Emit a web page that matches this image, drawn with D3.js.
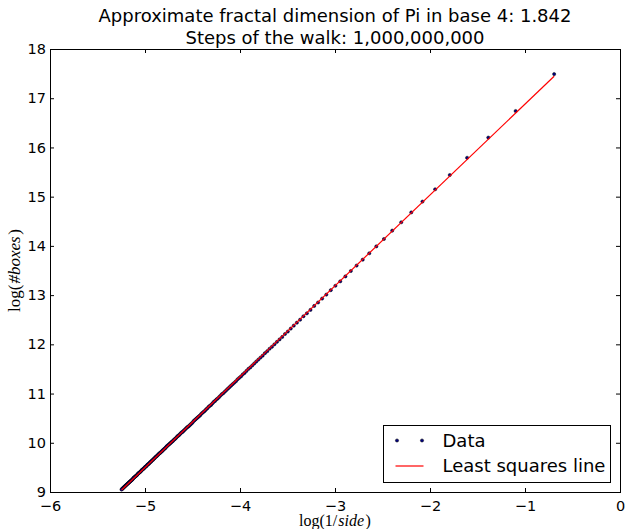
<!DOCTYPE html>
<html>
<head>
<meta charset="utf-8">
<script src="https://cdn.jsdelivr.net/npm/d3@7"></script>
<style>
  body { margin: 0; background: #fff; }
  text { font-family: "DejaVu Sans", sans-serif; }
  .math { font-family: "Liberation Serif", "DejaVu Serif", serif; }
</style>
</head>
<body>
<svg id="chart"></svg>
<script>
// log(1/side) for box sides 2..190
var logInvSide = [
  -0.6931, -1.0986, -1.3863, -1.6094, -1.7918, -1.9459, -2.0794, -2.1972, -2.3026, -2.3979,
  -2.4849, -2.5649, -2.6391, -2.7081, -2.7726, -2.8332, -2.8904, -2.9444, -2.9957, -3.0445,
  -3.0910, -3.1355, -3.1781, -3.2189, -3.2581, -3.2958, -3.3322, -3.3673, -3.4012, -3.4340,
  -3.4657, -3.4965, -3.5264, -3.5553, -3.5835, -3.6109, -3.6376, -3.6636, -3.6889, -3.7136,
  -3.7377, -3.7612, -3.7842, -3.8067, -3.8286, -3.8501, -3.8712, -3.8918, -3.9120, -3.9318,
  -3.9512, -3.9703, -3.9890, -4.0073, -4.0254, -4.0431, -4.0604, -4.0775, -4.0943, -4.1109,
  -4.1271, -4.1431, -4.1589, -4.1744, -4.1897, -4.2047, -4.2195, -4.2341, -4.2485, -4.2627,
  -4.2767, -4.2905, -4.3041, -4.3175, -4.3307, -4.3438, -4.3567, -4.3694, -4.3820, -4.3944,
  -4.4067, -4.4188, -4.4308, -4.4427, -4.4543, -4.4659, -4.4773, -4.4886, -4.4998, -4.5109,
  -4.5218, -4.5326, -4.5433, -4.5539, -4.5643, -4.5747, -4.5850, -4.5951, -4.6052, -4.6151,
  -4.6250, -4.6347, -4.6444, -4.6540, -4.6634, -4.6728, -4.6821, -4.6913, -4.7005, -4.7095,
  -4.7185, -4.7274, -4.7362, -4.7449, -4.7536, -4.7622, -4.7707, -4.7791, -4.7875, -4.7958,
  -4.8040, -4.8122, -4.8203, -4.8283, -4.8363, -4.8442, -4.8520, -4.8598, -4.8675, -4.8752,
  -4.8828, -4.8903, -4.8978, -4.9053, -4.9127, -4.9200, -4.9273, -4.9345, -4.9416, -4.9488,
  -4.9558, -4.9628, -4.9698, -4.9767, -4.9836, -4.9904, -4.9972, -5.0039, -5.0106, -5.0173,
  -5.0239, -5.0304, -5.0370, -5.0434, -5.0499, -5.0562, -5.0626, -5.0689, -5.0752, -5.0814,
  -5.0876, -5.0938, -5.0999, -5.1059, -5.1120, -5.1180, -5.1240, -5.1299, -5.1358, -5.1417,
  -5.1475, -5.1533, -5.1591, -5.1648, -5.1705, -5.1761, -5.1818, -5.1874, -5.1930, -5.1985,
  -5.2040, -5.2095, -5.2149, -5.2204, -5.2257, -5.2311, -5.2364, -5.2417, -5.2470
];
// log(#boxes)
var logBoxes = [
  17.49, 16.74, 16.20, 15.79, 15.44, 15.15, 14.90, 14.68, 14.48, 14.31,
  14.14, 13.99, 13.85, 13.72, 13.60, 13.49, 13.38, 13.28, 13.19, 13.10,
  13.01, 12.93, 12.85, 12.78, 12.70, 12.63, 12.57, 12.50, 12.44, 12.38,
  12.32, 12.26, 12.21, 12.15, 12.10, 12.05, 12.00, 11.95, 11.91, 11.86,
  11.82, 11.77, 11.73, 11.69, 11.65, 11.61, 11.57, 11.53, 11.50, 11.46,
  11.42, 11.39, 11.35, 11.32, 11.29, 11.25, 11.22, 11.19, 11.16, 11.13,
  11.10, 11.07, 11.04, 11.01, 10.99, 10.96, 10.93, 10.90, 10.88, 10.85,
  10.83, 10.80, 10.77, 10.75, 10.73, 10.70, 10.68, 10.65, 10.63, 10.61,
  10.59, 10.56, 10.54, 10.52, 10.50, 10.48, 10.46, 10.44, 10.41, 10.39,
  10.37, 10.35, 10.33, 10.32, 10.30, 10.28, 10.26, 10.24, 10.22, 10.21,
  10.19, 10.17, 10.15, 10.14, 10.12, 10.10, 10.08, 10.07, 10.05, 10.03,
  10.02, 10.00, 9.99, 9.97, 9.96, 9.94, 9.93, 9.91, 9.89, 9.88,
  9.86, 9.85, 9.83, 9.82, 9.80, 9.79, 9.78, 9.76, 9.75, 9.73,
  9.72, 9.71, 9.69, 9.68, 9.66, 9.65, 9.64, 9.62, 9.61, 9.60,
  9.58, 9.57, 9.56, 9.55, 9.53, 9.52, 9.51, 9.50, 9.48, 9.47,
  9.46, 9.45, 9.44, 9.42, 9.41, 9.40, 9.39, 9.38, 9.37, 9.35,
  9.34, 9.33, 9.32, 9.31, 9.30, 9.29, 9.28, 9.26, 9.25, 9.24,
  9.23, 9.22, 9.21, 9.20, 9.19, 9.18, 9.17, 9.16, 9.15, 9.14,
  9.13, 9.12, 9.11, 9.10, 9.09, 9.08, 9.07, 9.06, 9.05
];
var xTicks = [-6, -5, -4, -3, -2, -1, 0];
var yTicks = [9, 10, 11, 12, 13, 14, 15, 16, 17, 18];
var titleLines = ["Approximate fractal dimension of Pi in base 4: 1.842", "Steps of the walk: 1,000,000,000"];
var legendLabels = ["Data", "Least squares line"];

(function () {
    "use strict";

    var margin = { left: 50, right: 6, top: 49, bottom: 37 };
    var dim = { width: 570, height: 443 };
    var x = d3.scaleLinear().domain([-6, 0]).range([0, dim.width]);
    var y = d3.scaleLinear().domain([9, 18]).range([dim.height, 0]);

    var svg = d3.select("#chart")
        .attr("width", 626)
        .attr("height", 529);

    svg.selectAll("text.title").data(titleLines).enter().append("text")
        .attr("class", "title")
        .attr("x", margin.left + dim.width / 2)
        .attr("y", function (d, i) { return 21.5 + i * 22; })
        .attr("text-anchor", "middle")
        .style("font-size", "18px")
        .text(function (d) { return d; });

    var chart = svg.append("g")
        .attr("transform", "translate(" + margin.left + "," + margin.top + ")");

    // least squares fit of the data
    var pts = logInvSide.map(function (v, i) { return [v, logBoxes[i]]; });
    var mx = d3.mean(pts, function (p) { return p[0]; });
    var my = d3.mean(pts, function (p) { return p[1]; });
    var sxy = d3.sum(pts, function (p) { return (p[0] - mx) * (p[1] - my); });
    var sxx = d3.sum(pts, function (p) { return (p[0] - mx) * (p[0] - mx); });
    var slope = sxy / sxx;
    var icpt = my - slope * mx;
    var xExt = d3.extent(logInvSide);

    chart.selectAll("circle.pt").data(pts).enter().append("circle")
        .attr("class", "pt")
        .attr("cx", function (d) { return x(d[0]); })
        .attr("cy", function (d) { return y(d[1]); })
        .attr("r", 1.6)
        .attr("fill", "#000080")
        .attr("stroke", "#000")
        .attr("stroke-width", 0.5);

    chart.append("path")
        .datum(xExt)
        .attr("d", d3.line().x(function (d) { return x(d); }).y(function (d) { return y(icpt + slope * d); }))
        .attr("fill", "none")
        .attr("stroke", "#ff0000")
        .attr("stroke-width", 1.2);

    var fontTick = function (g) {
        g.select(".domain").remove();
        g.selectAll("text").style("font-family", "DejaVu Sans, sans-serif").style("font-size", "14.5px").attr("fill", "#000");
        g.selectAll("line").attr("stroke", "#000");
    };

    chart.append("g")
        .attr("transform", "translate(0," + dim.height + ")")
        .call(d3.axisBottom(x).tickValues(xTicks).tickSize(-4).tickPadding(8.5).tickFormat(d3.format("d")))
        .call(fontTick);
    chart.append("g")
        .call(d3.axisTop(x).tickValues(xTicks).tickSize(-4).tickFormat(""))
        .call(fontTick);
    chart.append("g")
        .call(d3.axisLeft(y).tickValues(yTicks).tickSize(-4).tickPadding(4).tickFormat(d3.format("d")))
        .call(fontTick);
    chart.append("g")
        .attr("transform", "translate(" + dim.width + ",0)")
        .call(d3.axisRight(y).tickValues(yTicks).tickSize(-4).tickFormat(""))
        .call(fontTick);

    chart.append("rect")
        .attr("x", 0.5).attr("y", 0.5)
        .attr("width", dim.width).attr("height", dim.height)
        .attr("fill", "none")
        .attr("stroke", "#000")
        .attr("stroke-width", 1);

    // axis labels (mathtext look)
    var xl = svg.append("text").attr("class", "math")
        .attr("x", margin.left + dim.width / 2)
        .attr("y", 526)
        .attr("text-anchor", "middle")
        .style("font-size", "16px");
    xl.append("tspan").text("log(1/");
    xl.append("tspan").attr("dx", 1).style("font-style", "italic").text("side");
    xl.append("tspan").attr("dx", 1.5).text(")");

    var yl = svg.append("text").attr("class", "math")
        .attr("transform", "translate(20," + (margin.top + dim.height / 2) + ") rotate(-90)")
        .attr("text-anchor", "middle")
        .style("font-size", "17px");
    yl.append("tspan").text("log(");
    yl.append("tspan").attr("dx", 1).style("font-style", "italic").text("#boxes");
    yl.append("tspan").attr("dx", 1.5).text(")");

    // legend
    var lg = svg.append("g").attr("transform", "translate(383.5,425.5)");
    lg.append("rect")
        .attr("width", 227).attr("height", 57)
        .attr("fill", "#fff").attr("stroke", "#000").attr("stroke-width", 1);
    lg.selectAll("circle").data([13.5, 38.5]).enter().append("circle")
        .attr("cx", function (d) { return d; })
        .attr("cy", 15)
        .attr("r", 1.6)
        .attr("fill", "#000080")
        .attr("stroke", "#000")
        .attr("stroke-width", 0.5);
    lg.append("line")
        .attr("x1", 12).attr("x2", 40).attr("y1", 40.5).attr("y2", 40.5)
        .attr("stroke", "#ff0000").attr("stroke-width", 1.2);
    lg.selectAll("text").data(legendLabels).enter().append("text")
        .attr("x", 59)
        .attr("y", function (d, i) { return 21 + i * 25.5; })
        .style("font-size", "18px")
        .text(function (d) { return d; });
})();
</script>
</body>
</html>
